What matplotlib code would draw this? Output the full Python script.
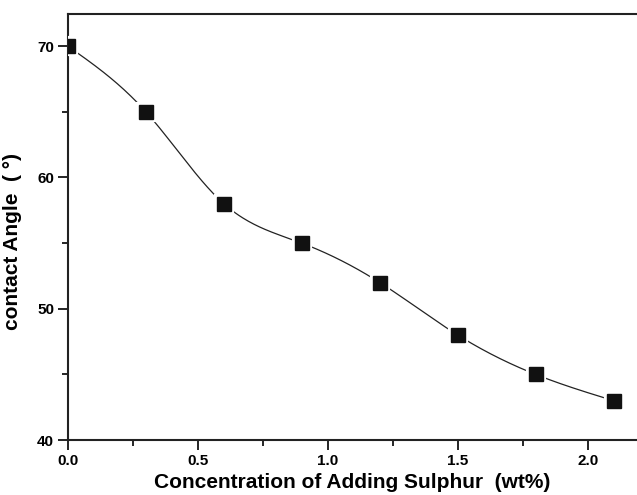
import numpy as np
import matplotlib
matplotlib.use("Agg")
import matplotlib.pyplot as plt
from matplotlib.ticker import MultipleLocator

# data
sulphur = [0.0, 0.3, 0.6, 0.9, 1.2, 1.5, 1.8, 2.1]
angle = [70, 65, 58, 55, 52, 48, 45, 43]


def natural_spline(x, y, n=400):
    # plain natural cubic spline, no scipy needed
    x = np.asarray(x, float)
    y = np.asarray(y, float)
    m = len(x)
    h = np.diff(x)
    A = np.zeros((m, m))
    b = np.zeros(m)
    A[0, 0] = A[-1, -1] = 1
    for i in range(1, m - 1):
        A[i, i - 1] = h[i - 1]
        A[i, i] = 2 * (h[i - 1] + h[i])
        A[i, i + 1] = h[i]
        b[i] = 3 * ((y[i + 1] - y[i]) / h[i] - (y[i] - y[i - 1]) / h[i - 1])
    c = np.linalg.solve(A, b)
    xs = np.linspace(x[0], x[-1], n)
    ys = np.empty_like(xs)
    for k, xv in enumerate(xs):
        i = min(np.searchsorted(x, xv, side="right") - 1, m - 2)
        dx = xv - x[i]
        bi = (y[i + 1] - y[i]) / h[i] - h[i] * (2 * c[i] + c[i + 1]) / 3
        di = (c[i + 1] - c[i]) / (3 * h[i])
        ys[k] = y[i] + bi * dx + c[i] * dx ** 2 + di * dx ** 3
    return xs, ys


plt.rcParams['font.family'] = ['Liberation Sans', 'DejaVu Sans']
plt.rcParams['font.weight'] = 'bold'

fig = plt.figure(figsize=(6.37, 4.95), dpi=100)
ax = fig.add_axes([0.1067, 0.111, 0.8933, 0.8606])

xs, ys = natural_spline(sulphur, angle)
ax.plot(xs, ys, color='#222222', lw=0.9, zorder=2)
ax.plot(sulphur, angle, 's', ms=12, color='#111111', mec='white', mew=3, zorder=3)
ax.plot(sulphur, angle, 's', ms=9.5, color='#111111', zorder=4)

ax.set_xlim(0, 2.19)
ax.set_ylim(40, 72.45)
ax.xaxis.set_major_locator(MultipleLocator(0.5))
ax.xaxis.set_minor_locator(MultipleLocator(0.25))
ax.yaxis.set_major_locator(MultipleLocator(10))
ax.yaxis.set_minor_locator(MultipleLocator(5))
ax.xaxis.set_major_formatter(matplotlib.ticker.FormatStrFormatter('%.1f'))

ax.tick_params(which='major', direction='out', length=7, width=1.2, labelsize=11, pad=3)
ax.tick_params(which='minor', direction='out', length=4, width=1.2)
for side in ['left', 'bottom', 'top']:
    ax.spines[side].set_linewidth(1.5)
    ax.spines[side].set_color('#222222')
ax.spines['right'].set_visible(False)

ax.set_xlabel('Concentration of Adding Sulphur  (wt%)', fontsize=15, fontweight='bold', labelpad=4)
ax.set_ylabel('contact Angle  ( °)', fontsize=15, fontweight='bold')
ax.yaxis.set_label_coords(-0.081, 0.465)

plt.savefig('out.png', dpi=100)
